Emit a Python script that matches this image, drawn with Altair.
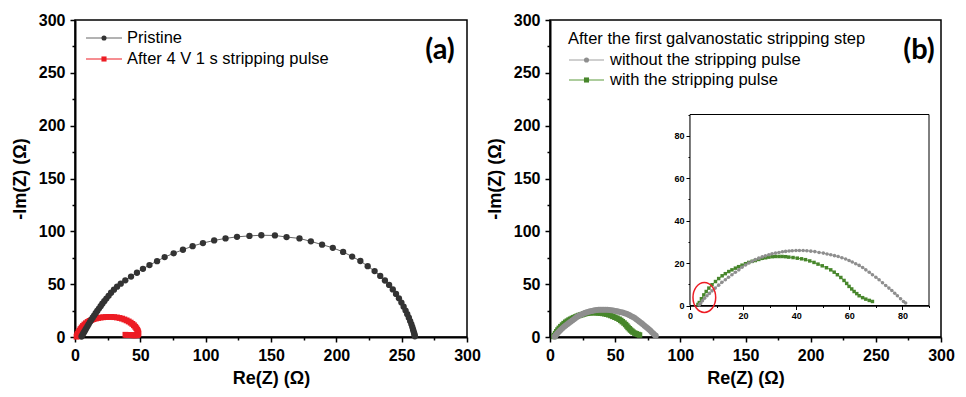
import altair as alt
import pandas as pd

# ---------------- data ----------------
# Panel (a): Pristine
pristine_x = [5.0, 5.6, 6.3, 7.0, 7.8, 8.6, 9.5, 10.4, 11.4, 12.4, 13.5, 14.6, 15.8, 17.0, 18.3, 19.6,
              20.9, 22.4, 24.0, 25.7, 27.6, 29.8, 32.2, 35.0, 38.5, 42.9, 47.4, 52.0, 57.0, 62.8,
              68.6, 75.5, 82.6, 90.0, 97.9, 106.5, 115.2, 124.0, 133.5, 142.6, 153.0, 161.9, 171.8,
              180.5, 189.1, 197.3, 205.2, 212.1, 218.4, 224.0, 229.3, 233.6, 237.2, 240.4, 243.2,
              245.7, 247.9, 249.8, 251.5, 253.0, 254.3, 255.5, 256.5, 257.4, 258.1, 258.7, 259.2,
              259.6, 259.9, 260.1]
pristine_y = [0.5, 1.8, 3.3, 4.8, 6.5, 8.2, 10.1, 12.0, 14.1, 16.1, 18.2, 20.3, 22.5, 24.6, 26.9, 29.2,
              31.5, 33.9, 36.4, 39.0, 41.9, 44.8, 47.6, 50.5, 53.6, 57.2, 60.8, 64.5, 68.1, 71.8,
              75.6, 79.2, 82.6, 86.0, 88.9, 91.4, 93.3, 94.8, 95.7, 96.3, 96.1, 94.6, 93.3,
              90.5, 87.4, 84.4, 80.5, 76.1, 71.9, 67.0, 62.4, 57.8, 53.5, 49.3, 45.0,
              40.8, 36.6, 32.6, 28.7, 25.0, 21.5, 18.2, 15.1, 12.2, 9.6, 7.2, 5.1,
              3.3, 1.8, 0.6]

# Panel (a): After 4 V 1 s stripping pulse
pulse_x = [1.2, 1.6, 2.1, 2.7, 3.4, 4.2, 5.1, 6.1, 7.2, 8.4, 9.7, 11.1, 12.6, 14.2, 15.9, 17.7, 19.6,
           21.6, 23.7, 25.8, 27.9, 30.0, 32.1, 34.1, 36.0, 37.8, 39.5, 41.1, 42.6, 43.9, 45.1, 46.1,
           46.9, 47.6, 48.1, 48.4, 48.5, 48.2, 47.5, 46.5, 45.3, 44.0, 42.6, 41.2, 39.8, 38.6]
pulse_y = [0.3, 1.6, 3.0, 4.5, 6.0, 7.5, 9.0, 10.4, 11.8, 13.0, 14.2, 15.2, 16.1, 16.9, 17.5, 18.0, 18.4,
           18.7, 18.9, 19.0, 19.0, 18.8, 18.5, 18.0, 17.4, 16.6, 15.7, 14.7, 13.6, 12.4, 11.1, 9.7,
           8.3, 6.9, 5.5, 4.2, 3.1, 2.3, 1.8, 1.6, 1.6, 1.7, 1.8, 1.9, 2.0, 2.1]

# Panel (b): without the stripping pulse
without_x = [3.5, 4.0, 4.7, 5.5, 6.4, 7.3, 8.3, 9.5, 10.8, 12.0, 13.3, 14.5, 15.8, 17.1, 18.4, 19.6,
             20.9, 22.1, 23.4, 24.6, 25.9, 27.2, 28.4, 29.7, 30.9, 32.2, 33.5, 34.8, 36.0, 37.3,
             38.5, 39.9, 41.2, 42.6, 44.0, 45.5, 47.0, 48.6, 50.2, 51.6, 53.0, 54.4, 55.8, 57.2,
             58.6, 59.9, 61.1, 62.4, 63.7, 65.0, 66.2, 67.5, 68.7, 70.0, 71.2, 72.5, 73.7, 74.9,
             76.0, 77.1, 78.1, 79.3, 80.4, 81.2]
without_y = [0.3, 1.0, 2.2, 3.4, 4.6, 5.7, 6.9, 8.2, 9.6, 10.9, 12.1, 13.3, 14.5, 15.7, 16.8, 18.0,
             19.1, 20.0, 20.8, 21.6, 22.3, 22.9, 23.4, 23.9, 24.4, 24.7, 25.0, 25.3, 25.5, 25.7,
             25.8, 25.9, 25.9, 25.9, 25.8, 25.6, 25.4, 25.0, 24.7, 24.3, 23.9, 23.5, 23.1, 22.5,
             21.9, 21.2, 20.5, 19.7, 18.9, 17.9, 16.8, 15.7, 14.5, 13.3, 12.1, 10.7, 9.4, 8.2,
             7.1, 5.8, 4.6, 3.2, 1.9, 1.2]

# Panel (b): with the stripping pulse
with_x = [3.0, 3.5, 4.3, 5.2, 6.1, 7.1, 8.3, 9.6, 10.8, 12.1, 13.3, 14.6, 15.8, 17.1, 18.3, 19.6,
          20.9, 22.1, 23.4, 24.6, 25.9, 27.2, 28.5, 29.7, 31.0, 32.2, 33.5, 34.7, 36.0, 37.2,
          38.8, 40.4, 42.0, 43.5, 45.1, 46.7, 48.2, 49.8, 51.4, 53.0, 54.3, 55.5, 56.8, 58.0,
          59.0, 59.9, 60.9, 61.8, 62.8, 63.7, 65.0, 66.2, 67.5, 68.7]
with_y = [0.5, 1.4, 3.2, 5.0, 6.6, 8.2, 9.8, 11.3, 12.7, 14.0, 15.0, 16.0, 16.8, 17.6, 18.3, 19.0,
          19.7, 20.3, 20.8, 21.2, 21.7, 22.2, 22.5, 22.8, 23.0, 23.1, 23.1, 23.1, 23.0, 22.8,
          22.6, 22.3, 22.0, 21.6, 21.0, 20.3, 19.5, 18.7, 17.8, 16.8, 15.7, 14.5, 13.2, 11.8,
          10.4, 9.0, 7.8, 6.6, 5.6, 4.6, 3.7, 3.0, 2.4, 1.9]

# Texts, ticks, annotation
legend_a = ["Pristine", "After 4 V 1 s stripping pulse"]
legend_b_title = "After the first galvanostatic stripping step"
legend_b = ["without the stripping pulse", "with the stripping pulse"]
panel_labels = ["(a)", "(b)"]
x_title = "Re(Z) (Ω)"
y_title = "-Im(Z) (Ω)"
main_domain = [0, 300]
main_ticks = list(range(0, 301, 25))
inset_domain = [0, 90]
inset_ticks = list(range(0, 91, 10))
highlight_x = [5.4]
highlight_y = [3.8]

# ---------------- styling ----------------
FONT = "Liberation Sans"
WA, WB, H = 392, 391, 317
SPACING = 83
C_PRIS, C_PRIS_LINE = "#333333", "#666666"
C_RED = "#ed1c24"
C_GRAY, C_GRAY_LINE = "#8e8e8e", "#a0a0a0"
C_GREEN, C_GREEN_LINE = "#47862b", "#5c9b3c"
LEG_FS = 16.5


def frame(xs, ys):
    return pd.DataFrame({"x": xs, "y": ys, "i": list(range(len(xs)))})


def main_axis(title, orient):
    return alt.Axis(
        orient=orient, title=title, values=main_ticks,
        labelExpr="datum.value % 50 === 0 ? datum.label : ''",
        tickSize={"condition": {"test": "datum.value % 50 === 0", "value": 5}, "value": 3},
        labelFont=FONT, labelFontSize=16, labelFontWeight="bold", labelColor="black",
        titleFont=FONT, titleFontSize=18, titleFontWeight="bold", titleColor="black",
        domainColor="black", domainWidth=2, tickColor="black", tickWidth=1.5,
        labelPadding=5,
        titlePadding=6 if orient == "bottom" else 9,
        labelFlush=False, labelOverlap=False, grid=False,
    )


def inset_axis(orient, offset):
    return alt.Axis(
        orient=orient, title=None, offset=offset, values=inset_ticks,
        labelExpr="datum.value % 20 === 0 ? datum.label : ''",
        tickSize={"condition": {"test": "datum.value % 20 === 0", "value": 4}, "value": 2},
        labelFont=FONT, labelFontSize=9, labelFontWeight="bold", labelColor="black",
        domainColor="black", domainWidth=1.3, tickColor="black", tickWidth=1,
        labelPadding=2, labelFlush=False, labelOverlap=False, grid=False,
    )


def main_scales():
    sx = dict(scale=alt.Scale(domain=main_domain, nice=False, zero=False), axis=main_axis(x_title, "bottom"))
    sy = dict(scale=alt.Scale(domain=main_domain, nice=False, zero=False), axis=main_axis(y_title, "left"))
    return sx, sy


mxa, mya = main_scales()
mxb, myb = main_scales()

# inset placement inside the panel (b) plot area (pixels from its top-left corner)
IX0, IX1 = 140, 379
IY0, IY1 = 285.5, 94.5
ix = dict(scale=alt.Scale(domain=inset_domain, range=[IX0, IX1], nice=False, zero=False),
          axis=inset_axis("bottom", -(H - IY0)))
iy = dict(scale=alt.Scale(domain=inset_domain, range=[IY0, IY1], nice=False, zero=False),
          axis=inset_axis("left", -IX0))


def series(xs, ys, sx, sy, line_color, color, shape, size, line_w=1):
    d = frame(xs, ys)
    base = alt.Chart(d)
    line = base.mark_line(color=line_color, strokeWidth=line_w).encode(
        x=alt.X("x:Q", **sx), y=alt.Y("y:Q", **sy), order="i:Q")
    pts = base.mark_point(shape=shape, filled=True, size=size, color=color, opacity=1).encode(
        x=alt.X("x:Q", **sx), y=alt.Y("y:Q", **sy))
    return [line, pts]


def legend_entry(label, yy, x0, x1, xt, line_color, color, shape):
    d = pd.DataFrame({"label": [label]})
    rule = alt.Chart(d).mark_rule(color=line_color, strokeWidth=1).encode(
        x=alt.value(x0), x2=alt.value(x1), y=alt.value(yy))
    sym = alt.Chart(d).mark_point(shape=shape, filled=True, size=26, color=color, opacity=1).encode(
        x=alt.value((x0 + x1) / 2), y=alt.value(yy))
    txt = alt.Chart(d).mark_text(align="left", baseline="middle", font=FONT, fontSize=LEG_FS,
                                 color="black").encode(
        x=alt.value(xt), y=alt.value(yy), text="label:N")
    return [rule, sym, txt]


def panel_label(label, xx):
    d = pd.DataFrame({"label": [label]})
    return alt.Chart(d).mark_text(align="center", baseline="middle", font="Lato", fontSize=29,
                                  fontWeight="bold", color="black").encode(
        x=alt.value(xx), y=alt.value(30), text="label:N")


# ---------------- panel (a) ----------------
layers_a = []
layers_a += series(pulse_x, pulse_y, mxa, mya, C_RED, C_RED, "square", 34)
layers_a += series(pristine_x, pristine_y, mxa, mya, C_PRIS_LINE, C_PRIS, "circle", 40)
layers_a += legend_entry(legend_a[0], 18, 11, 47, 52, C_PRIS_LINE, C_PRIS, "circle")
layers_a += legend_entry(legend_a[1], 39, 11, 47, 52, C_RED, C_RED, "square")
layers_a.append(panel_label(panel_labels[0], 365))
panel_a = alt.layer(*layers_a).properties(width=WA, height=H)

# ---------------- panel (b) ----------------
main_b = alt.layer(
    *series(with_x, with_y, mxb, myb, C_GREEN_LINE, C_GREEN, "square", 30),
    *series(without_x, without_y, mxb, myb, C_GRAY_LINE, C_GRAY, "circle", 36),
)

box = alt.Chart(pd.DataFrame({"x": [inset_domain[0]], "x2": [inset_domain[1]],
                              "y": [inset_domain[0]], "y2": [inset_domain[1]]})).mark_rect(
    fill="white", stroke="black", strokeWidth=1).encode(
    x=alt.X("x:Q", **ix), x2="x2:Q", y=alt.Y("y:Q", **iy), y2="y2:Q")

ellipse_path = ("M0,-1 C0.418,-1 0.757,-0.552 0.757,0 C0.757,0.552 0.418,1 0,1 "
                "C-0.418,1 -0.757,0.552 -0.757,0 C-0.757,-0.552 -0.418,-1 0,-1 Z")
ellipse = alt.Chart(pd.DataFrame({"x": highlight_x, "y": highlight_y})).mark_point(
    shape=ellipse_path, filled=False, size=900, color=C_RED, strokeWidth=1.5, opacity=1).encode(
    x=alt.X("x:Q", **ix), y=alt.Y("y:Q", **iy))

inset_b = alt.layer(
    box,
    *series(with_x, with_y, ix, iy, C_GREEN_LINE, C_GREEN, "square", 12),
    *series(without_x, without_y, ix, iy, C_GRAY_LINE, C_GRAY, "circle", 13),
    ellipse,
)

title_b = alt.Chart(pd.DataFrame({"label": [legend_b_title]})).mark_text(
    align="left", baseline="middle", font=FONT, fontSize=LEG_FS, color="black").encode(
    x=alt.value(18), y=alt.value(19), text="label:N")

deco_b = [title_b]
deco_b += legend_entry(legend_b[0], 40, 19, 54, 60, C_GRAY_LINE, C_GRAY, "circle")
deco_b += legend_entry(legend_b[1], 60, 19, 54, 60, C_GREEN_LINE, C_GREEN, "square")
deco_b.append(panel_label(panel_labels[1], 369))

panel_b = alt.layer(main_b, inset_b, *deco_b).resolve_scale(
    x="independent", y="independent").properties(width=WB, height=H)

chart = alt.hconcat(panel_a, panel_b, spacing=SPACING, bounds="flush").properties(
    padding={"left": 2, "top": 3, "right": 0, "bottom": 0}
).configure_view(stroke="black", strokeWidth=1.5)

chart.save("out.html", embed_options={"renderer": "svg", "actions": False})
